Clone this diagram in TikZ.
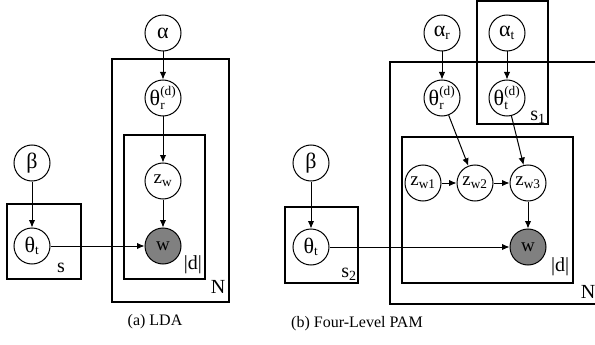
\documentclass[tikz,border=0pt]{standalone}
\usepackage{amsmath}
\usepackage{fontspec}
\setmainfont{Liberation Serif}
\usetikzlibrary{arrows.meta}
\newcommand{\gk}[1]{{\fontsize{22}{24}\selectfont #1}}
\begin{document}
\begin{tikzpicture}[x=1pt,y=-1pt,
  var/.style={circle,draw,line width=1pt,minimum size=36pt,inner sep=0pt,font=\fontsize{19}{21}\selectfont},
  obs/.style={var,fill=black!50},
  plate/.style={draw,line width=1.3pt},
  lbl/.style={font=\fontsize{20}{22}\selectfont,inner sep=0pt},
  captext/.style={font=\fontsize{16}{18}\selectfont,inner sep=0pt},
  edge/.style={-{Latex[length=7.5pt,width=6.5pt]},line width=1pt}]
\useasboundingbox (0,0) rectangle (595,345);
% ---------- (a) LDA ----------
\draw[plate] (112,59) rectangle (229,302);
\draw[plate] (124,135) rectangle (205,279);
\draw[plate] (7,204) rectangle (81,279);
\node[var] (a) at (163,33) {\gk{α}};
\node[var] (thr) at (163,98) {$\text{\gk{θ}}_{\text{r}}^{\text{(d)}}$};
\node[var] (zw) at (163,181) {$\text{z}_{\text{w}}$};
\node[obs] (w) at (163,246) {w};
\node[var] (b) at (32,163) {\gk{β}};
\node[var] (tht) at (32,246) {$\text{\gk{θ}}_{\text{t}}$};
\node[lbl] (ls) at (61,268) {s};
\node[lbl] (ld) at (193,265) {|d|};
\node[lbl] (lN) at (218,287) {N};
\node[captext] (capa) at (155,322) {(a) LDA};
\draw[edge] (a) -- (thr);
\draw[edge] (thr) -- (zw);
\draw[edge] (zw) -- (w);
\draw[edge] (b) -- (tht);
\draw[edge] (tht) -- (w);
% ---------- (b) PAM ----------
\draw[plate] (477,1) rectangle (548,124);
\draw[plate] (596,62) -- (390,62) -- (390,304) -- (596,304);
\draw[plate] (402,137) rectangle (573,283);
\draw[plate] (285,207) rectangle (358,283);
\node[var] (ar) at (442,33) {$\text{\gk{α}}_{\text{r}}$};
\node[var] (at) at (507,33) {$\text{\gk{α}}_{\text{t}}$};
\node[var] (thr2) at (442,98) {$\text{\gk{θ}}_{\text{r}}^{\text{(d)}}$};
\node[var] (tht2) at (507,98) {$\text{\gk{θ}}_{\text{t}}^{\text{(d)}}$};
\node[var] (z1) at (423,183) {$\text{z}_{\text{w1}}$};
\node[var] (z2) at (475,183) {$\text{z}_{\text{w2}}$};
\node[var] (z3) at (528,183) {$\text{z}_{\text{w3}}$};
\node[obs] (w2) at (528,247) {w};
\node[var] (b2) at (311,163) {\gk{β}};
\node[var] (tht3) at (311,247) {$\text{\gk{θ}}_{\text{t}}$};
\node[lbl] (ls1) at (538,117) {$\text{s}_{\text{1}}$};
\node[lbl] (ld2) at (560,267) {|d|};
\node[lbl] (lN2) at (588,292) {N};
\node[lbl] (ls2) at (349,274) {$\text{s}_{\text{2}}$};
\node[captext] (capb) at (357,324) {(b) Four-Level PAM};
\draw[edge] (ar) -- (thr2);
\draw[edge] (at) -- (tht2);
\draw[edge] (thr2) -- (z2);
\draw[edge] (tht2) -- (z3);
\draw[edge] (z1) -- (z2);
\draw[edge] (z2) -- (z3);
\draw[edge] (z3) -- (w2);
\draw[edge] (b2) -- (tht3);
\draw[edge] (tht3) -- (w2);
\end{tikzpicture}
\end{document}
